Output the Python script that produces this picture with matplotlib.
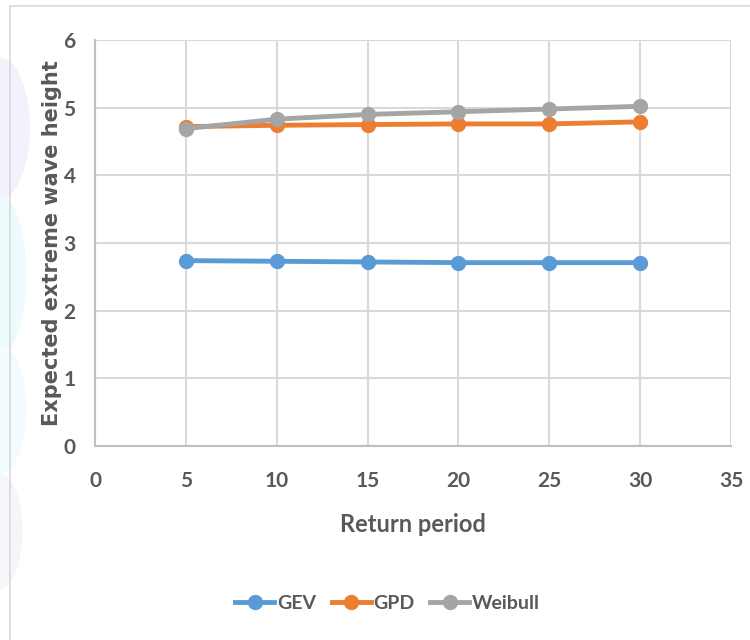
import matplotlib.pyplot as plt
from matplotlib.patches import Rectangle, Ellipse

# return periods (years) and expected extreme wave heights per distribution
return_period = [5, 10, 15, 20, 25, 30]
gev = [2.74, 2.73, 2.72, 2.71, 2.71, 2.71]
gpd = [4.72, 4.74, 4.75, 4.76, 4.76, 4.79]
weibull = [4.69, 4.83, 4.90, 4.94, 4.98, 5.02]

series_names = ['GEV', 'GPD', 'Weibull']
series_colors = ['#5b9bd5', '#ed7d31', '#a5a5a5']

x_ticks = [0, 5, 10, 15, 20, 25, 30, 35]
y_ticks = [0, 1, 2, 3, 4, 5, 6]

narrow = ['Lato', 'DejaVu Sans']
txt_color = '#595959'

fig = plt.figure(figsize=(7.5, 6.4), dpi=100)

# faint background shapes on the left edge
for cx, cy, w, h, c in [(0.0, 0.80, 0.08, 0.22, '#f1f2fb'),
                        (0.0, 0.57, 0.07, 0.25, '#edfbfd'),
                        (0.0, 0.36, 0.07, 0.20, '#f2fbfd'),
                        (0.0, 0.17, 0.06, 0.18, '#f5f6fa')]:
    fig.patches.append(Ellipse((cx, cy), w, h, transform=fig.transFigure,
                               facecolor=c, edgecolor='none', zorder=-5))

# chart area border
fig.patches.append(Rectangle((0.013, -0.01), 1.0, 1 - 0.009 + 0.01,
                             transform=fig.transFigure, facecolor='none',
                             edgecolor='#d9d9d9', linewidth=1.2, zorder=-4))

ax = fig.add_axes([0.1267, 0.3031, 0.848, 0.6344])
ax.patch.set_alpha(0)

data = [gev, gpd, weibull]
for name, vals, col in zip(series_names, data, series_colors):
    ax.plot(return_period, vals, color=col, linewidth=3.5, marker='o',
            markersize=10, label=name, zorder=3)

ax.set_xlim(0, 35)
ax.set_ylim(0, 6)
ax.set_xticks(x_ticks)
ax.set_yticks(y_ticks)
ax.grid(True, color='#d9d9d9', linewidth=1.5)
ax.set_axisbelow(True)

for side in ['top', 'right']:
    ax.spines[side].set_visible(False)
for side in ['left', 'bottom']:
    ax.spines[side].set_color('#bfbfbf')
    ax.spines[side].set_linewidth(1.5)
ax.tick_params(axis='y', length=0, pad=14)
ax.tick_params(axis='x', length=0, pad=18)

for lbl in ax.get_xticklabels() + ax.get_yticklabels():
    lbl.set_family(narrow)
    lbl.set_fontweight('bold')
    lbl.set_fontsize(15)
    lbl.set_color(txt_color)

ax.set_xlabel('Return period', family=narrow, fontweight='bold',
              fontsize=17, color=txt_color, labelpad=16)
ax.set_ylabel('Expected extreme wave height', fontweight='bold',
              fontsize=15, color=txt_color, labelpad=1)

leg = fig.legend(loc='center', bbox_to_anchor=(0.517, 0.057), ncol=3,
                 frameon=False, handlelength=2.0, columnspacing=0.8,
                 handletextpad=0.15, prop={'family': narrow, 'weight': 'bold', 'size': 14})
for t in leg.get_texts():
    t.set_color(txt_color)

fig.savefig('out.png', dpi=100)
